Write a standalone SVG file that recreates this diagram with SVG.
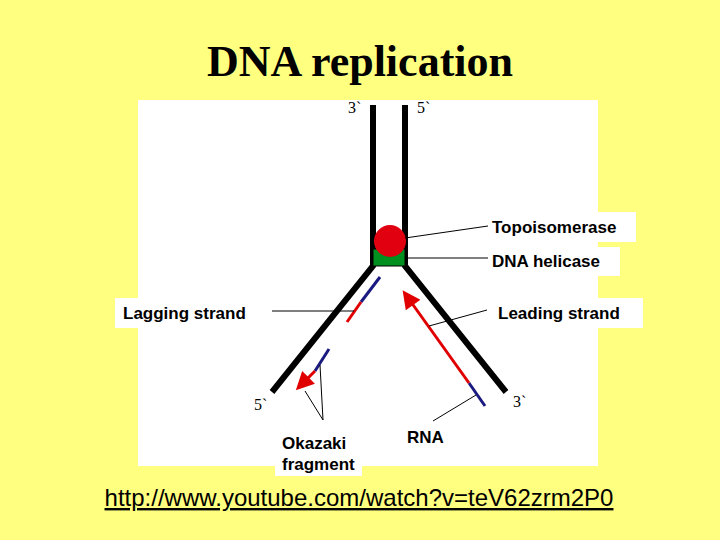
<svg xmlns="http://www.w3.org/2000/svg" width="720" height="540" viewBox="0 0 720 540">
<style>
.lbl{font-family:"Liberation Sans",Arial,sans-serif;font-weight:bold;font-size:17px;fill:#000}
.num{font-family:"Liberation Serif","Times New Roman",serif;font-size:16px;fill:#000}
.strand{stroke:#000;stroke-width:6;fill:none}
.thin{stroke:#000;stroke-width:1;fill:none}
.box{fill:#fff}
</style>
<defs>
<marker id="ah" viewBox="0 0 10 10" refX="2" refY="5" markerWidth="7" markerHeight="6" orient="auto" markerUnits="strokeWidth"><path d="M0,0 L10,5 L0,10 z" fill="#e00000"/></marker>
</defs>
<rect width="720" height="540" fill="#ffff80"/>
<text x="360" y="76" text-anchor="middle" style="font-family:'Liberation Serif','Times New Roman',serif;font-weight:bold;font-size:44px">DNA replication</text>
<rect x="138" y="100" width="460" height="366" fill="#fff"/>
<g id="dna">
<polyline class="strand" points="373,105 373,266 272,392"/>
<polyline class="strand" points="405,105 405,266 506,392"/>
<text class="num" x="348" y="113">3`</text>
<text class="num" x="417" y="113">5`</text>
<text class="num" x="254" y="410">5`</text>
<text class="num" x="513" y="407">3`</text>
</g>
<g id="helicase"><rect x="373" y="249" width="32" height="17" fill="#009020" stroke="#000" stroke-width="1"/></g>
<g id="topoisomerase"><circle cx="390" cy="241" r="16" fill="#e00010"/></g>
<g id="fragments">
<line x1="380" y1="277" x2="361" y2="302" stroke="#1a1a80" stroke-width="3"/>
<line x1="361" y1="302" x2="347" y2="322" stroke="#e00000" stroke-width="3"/>
<line x1="329" y1="349" x2="315" y2="371" stroke="#1a1a80" stroke-width="3"/>
<line x1="315" y1="371" x2="306" y2="380" stroke="#e00000" stroke-width="3" marker-end="url(#ah)"/>
<line x1="485" y1="406" x2="469" y2="383" stroke="#1a1a80" stroke-width="3"/>
<line x1="469" y1="383" x2="411" y2="302" stroke="#e00000" stroke-width="3" marker-end="url(#ah)"/>
</g>
<g id="connectors">
<line class="thin" x1="405" y1="238" x2="488" y2="226"/>
<line class="thin" x1="405" y1="258" x2="488" y2="258"/>
<line class="thin" x1="272" y1="311" x2="354" y2="311"/>
<line class="thin" x1="429" y1="326" x2="487" y2="310"/>
<line class="thin" x1="433" y1="421" x2="476" y2="395"/>
<line class="thin" x1="323" y1="420" x2="305" y2="391"/>
<line class="thin" x1="323" y1="420" x2="320" y2="365"/>
</g>
<g id="topo-label"><rect class="box" x="488" y="212" width="148" height="30"/><text class="lbl" x="492" y="233">Topoisomerase</text></g>
<g id="helicase-label"><rect class="box" x="488" y="247" width="132" height="29"/><text class="lbl" x="492" y="267">DNA helicase</text></g>
<g id="lagging-label"><rect class="box" x="115" y="298" width="143" height="30"/><text class="lbl" x="123" y="319">Lagging strand</text></g>
<g id="leading-label"><rect class="box" x="494" y="298" width="149" height="30"/><text class="lbl" x="498" y="319">Leading strand</text></g>
<g id="rna-label"><rect class="box" x="400" y="422" width="62" height="32"/><text class="lbl" x="407" y="443">RNA</text></g>
<g id="okazaki-label"><rect class="box" x="275" y="428" width="87" height="48"/><text class="lbl" x="282" y="449">Okazaki</text><text class="lbl" x="282" y="470">fragment</text></g>
<text x="359" y="506" text-anchor="middle" style="font-family:'Liberation Sans',Arial,sans-serif;font-size:24px;fill:#000;text-decoration:underline">http://www.youtube.com/watch?v=teV62zrm2P0</text>
</svg>
